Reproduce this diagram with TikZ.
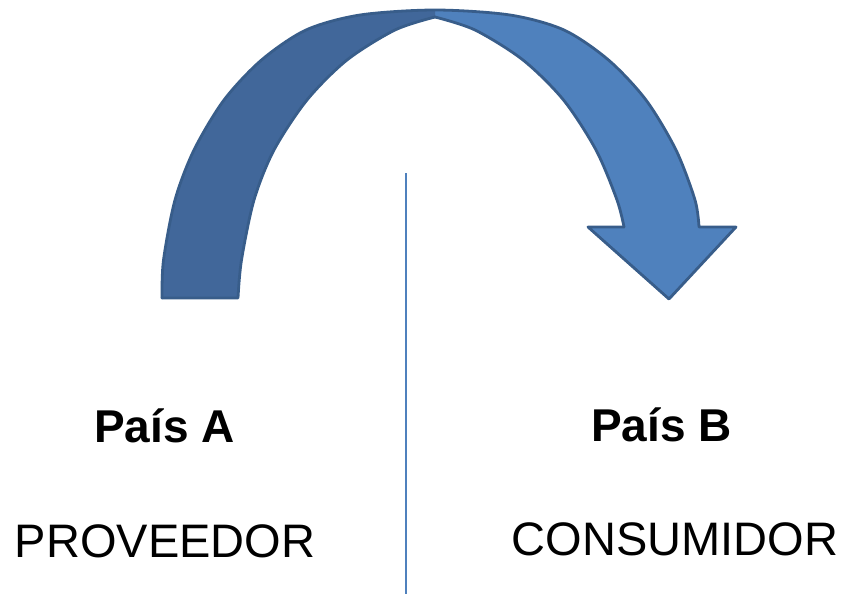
\documentclass[tikz,border=0pt]{standalone}
\usepackage{fontspec}
\setmainfont{Liberation Sans}
\usepackage{tikz}
\usetikzlibrary{positioning}

\definecolor{bandDark}{HTML}{41679A}
\definecolor{bandLight}{HTML}{4F81BD}
\definecolor{bandEdge}{HTML}{385D8A}

\tikzset{
  band/.style={draw=bandEdge, line width=2.8pt, line join=round, line cap=round},
  paisbox/.style={anchor=base, inner sep=0pt, font=\fontsize{46}{55}\selectfont\bfseries},
  rolbox/.style={anchor=base, inner sep=0pt, font=\fontsize{47}{56}\selectfont},
}

\begin{document}
\begin{tikzpicture}[x=1pt, y=-1pt]
    \useasboundingbox (0,0) rectangle (843,594);

    % Divider between both countries
    \coordinate (divtop) at (406,173);
    \coordinate (divbot) at (406,594);
    \draw[bandLight, line width=1.6pt] (divtop) -- (divbot);

    % Curved arrow: fills
    \fill[bandLight] plot[smooth] coordinates {(435,10) (510,15) (564,30) (608.5,60) (646,100) (676,150) (695,200) (699,227)}
        -- (736,227) -- (669,299) -- (588,227)
        -- plot[smooth] coordinates {(624,227) (617,200) (596,150) (563.5,100) (523,60) (475,30) (435,17)} -- cycle;
    \fill[bandDark] plot[smooth] coordinates {(162,298) (163.5,260) (175,200) (194,150) (224,100) (261.5,60) (306,30) (360,15) (435,10)}
        -- plot[smooth] coordinates {(435,17) (395,30) (347,60) (307,100) (274,150) (254,200) (241.5,260) (238,298)} -- cycle;

    % Curved arrow: outlines
    \draw[band] plot[smooth] coordinates {(162,298) (163.5,260) (175,200) (194,150) (224,100) (261.5,60) (306,30) (360,15) (435,10)
        (510,15) (564,30) (608.5,60) (646,100) (676,150) (695,200) (699,227)}
        -- (736,227) -- (669,299) -- (588,227) -- (624,227);
    \draw[band] plot[smooth] coordinates {(624,227) (617,200) (596,150) (563.5,100) (523,60) (475,30) (435,17)};
    \draw[band] plot[smooth] coordinates {(435,17) (395,30) (347,60) (307,100) (274,150) (254,200) (241.5,260) (238,298)}
        -- (162,298);

    % Countries and roles
    \node[paisbox] (paisA) at (164.5,442) {País A};
    \node[paisbox] (paisB) at (661.5,441) {País B};
    \node[rolbox] (proveedor) at (165,557) {PROVEEDOR};
    \node[rolbox] (consumidor) at (675,555) {CONSUMIDOR};
\end{tikzpicture}
\end{document}
